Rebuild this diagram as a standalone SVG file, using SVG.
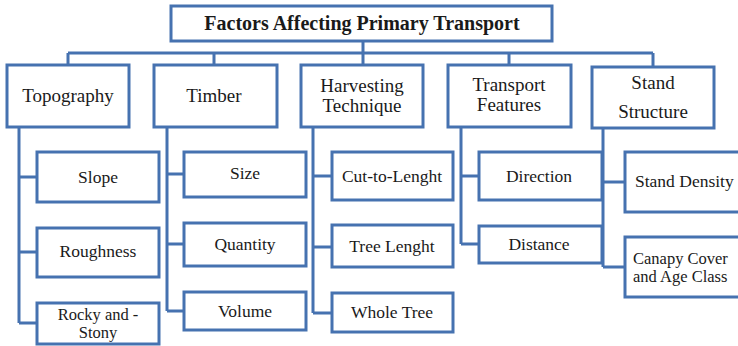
<svg xmlns="http://www.w3.org/2000/svg" width="738" height="346" viewBox="0 0 738 346" font-family="'Liberation Serif', 'DejaVu Serif', serif">
<style>
rect{fill:#fff;stroke:#4672b0;stroke-width:3}
.c{fill:none;stroke:#4672b0;stroke-width:3}
text{font-family:'Liberation Serif','DejaVu Serif',serif;fill:#1a1a1a;text-anchor:middle}
.t{font-size:20px;font-weight:bold}
.l{font-size:19px}
.s{font-size:17.5px}
.m{font-size:16.5px}
.a{text-anchor:start}
</style>
<rect x="0" y="0" width="738" height="346" style="stroke:none"/>
<g id="connectors">
<path class="c" d="M363 41V65M68 53H653M68 53V65M214 53V65M509 53V65M653 53V67"/>
<path class="c" d="M19 127V323M19 177H37M19 252H37M19 323H37"/>
<path class="c" d="M167 127V311M167 174H184M167 244H184M167 311H184"/>
<path class="c" d="M313 127V313M313 176H332M313 247H332M313 313H332"/>
<path class="c" d="M461 127V244M461 176H479M461 244H479"/>
<path class="c" d="M603 128V267M603 182H625M603 267H625"/>
</g>
<g id="title"><rect x="171" y="6" width="381" height="35"/><text class="t" x="362" y="30">Factors Affecting Primary Transport</text></g>
<g id="topography"><rect x="7" y="65" width="122" height="62"/><text class="l" x="68" y="102">Topography</text></g>
<g id="timber"><rect x="154" y="65" width="123" height="62"/><text class="l" x="214" y="102">Timber</text></g>
<g id="harvesting"><rect x="301" y="65" width="122" height="62"/><text class="l" x="362" y="92">Harvesting</text><text class="l" x="362" y="112">Technique</text></g>
<g id="transport"><rect x="448" y="65" width="123" height="62"/><text class="l" x="509" y="91">Transport</text><text class="l" x="509" y="111">Features</text></g>
<g id="stand"><rect x="592" y="67" width="122" height="61"/><text class="l" x="653" y="89">Stand</text><text class="l" x="653" y="118">Structure</text></g>
<g id="slope"><rect x="37" y="152" width="122" height="50"/><text class="s" x="98" y="183">Slope</text></g>
<g id="roughness"><rect x="37" y="228" width="122" height="49"/><text class="s" x="98" y="257">Roughness</text></g>
<g id="rocky"><rect x="37" y="303" width="122" height="41"/><text class="m" x="98" y="320">Rocky and -</text><text class="m" x="98" y="338">Stony</text></g>
<g id="size"><rect x="184" y="152" width="122" height="45"/><text class="s" x="245" y="179">Size</text></g>
<g id="quantity"><rect x="184" y="223" width="122" height="43"/><text class="s" x="245" y="250">Quantity</text></g>
<g id="volume"><rect x="184" y="292" width="122" height="38"/><text class="s" x="245" y="317">Volume</text></g>
<g id="cut"><rect x="332" y="152" width="121" height="48"/><text class="s" x="392" y="182">Cut-to-Lenght</text></g>
<g id="treelength"><rect x="332" y="225" width="121" height="42"/><text class="s" x="392" y="252">Tree Lenght</text></g>
<g id="whole"><rect x="332" y="293" width="121" height="39"/><text class="s" x="392" y="318">Whole Tree</text></g>
<g id="direction"><rect x="479" y="152" width="123" height="48"/><text class="s" x="539" y="182">Direction</text></g>
<g id="distance"><rect x="479" y="226" width="123" height="37"/><text class="s" x="539" y="250">Distance</text></g>
<g id="density"><rect x="625" y="152" width="130" height="60"/><text class="s a" x="635" y="187">Stand Density</text></g>
<g id="canopy"><rect x="625" y="237" width="130" height="60"/><text class="m a" x="633" y="264">Canapy Cover</text><text class="m a" x="633" y="282">and Age Class</text></g>
</svg>
